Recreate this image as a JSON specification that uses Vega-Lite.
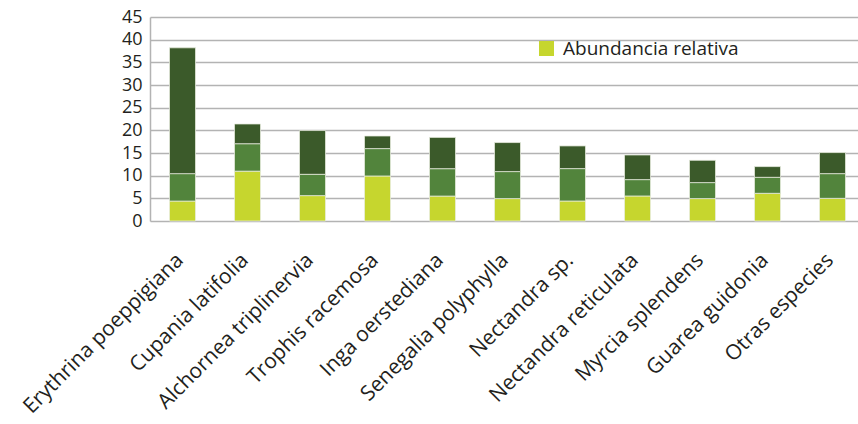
{
  "$schema": "https://vega.github.io/schema/vega-lite/v6.json",
  "autosize": "none",
  "width": 708,
  "height": 204,
  "padding": {"left": 150, "top": 17, "right": 0, "bottom": 203},
  "background": "white",
  "config": {
    "view": {"stroke": null},
    "font": "Open Sans",
    "axis": {"labelFont": "Open Sans", "labelColor": "#231f20"},
    "legend": {"labelFont": "Open Sans", "labelColor": "#231f20"}
  },
  "data": {
    "values": [
      {"especie": "Erythrina poeppigiana", "serie": "Abundancia relativa", "n": 1, "valor": 4.4},
      {"especie": "Erythrina poeppigiana", "serie": "Frecuencia relativa", "n": 2, "valor": 6.05},
      {"especie": "Erythrina poeppigiana", "serie": "Dominancia relativa", "n": 3, "valor": 27.75},
      {"especie": "Cupania latifolia", "serie": "Abundancia relativa", "n": 1, "valor": 11.0},
      {"especie": "Cupania latifolia", "serie": "Frecuencia relativa", "n": 2, "valor": 6.05},
      {"especie": "Cupania latifolia", "serie": "Dominancia relativa", "n": 3, "valor": 4.35},
      {"especie": "Alchornea triplinervia", "serie": "Abundancia relativa", "n": 1, "valor": 5.6},
      {"especie": "Alchornea triplinervia", "serie": "Frecuencia relativa", "n": 2, "valor": 4.7},
      {"especie": "Alchornea triplinervia", "serie": "Dominancia relativa", "n": 3, "valor": 9.65},
      {"especie": "Trophis racemosa", "serie": "Abundancia relativa", "n": 1, "valor": 9.93},
      {"especie": "Trophis racemosa", "serie": "Frecuencia relativa", "n": 2, "valor": 6.04},
      {"especie": "Trophis racemosa", "serie": "Dominancia relativa", "n": 3, "valor": 2.78},
      {"especie": "Inga oerstediana", "serie": "Abundancia relativa", "n": 1, "valor": 5.5},
      {"especie": "Inga oerstediana", "serie": "Frecuencia relativa", "n": 2, "valor": 6.04},
      {"especie": "Inga oerstediana", "serie": "Dominancia relativa", "n": 3, "valor": 6.9},
      {"especie": "Senegalia polyphylla", "serie": "Abundancia relativa", "n": 1, "valor": 4.94},
      {"especie": "Senegalia polyphylla", "serie": "Frecuencia relativa", "n": 2, "valor": 5.96},
      {"especie": "Senegalia polyphylla", "serie": "Dominancia relativa", "n": 3, "valor": 6.4},
      {"especie": "Nectandra sp.", "serie": "Abundancia relativa", "n": 1, "valor": 4.41},
      {"especie": "Nectandra sp.", "serie": "Frecuencia relativa", "n": 2, "valor": 7.15},
      {"especie": "Nectandra sp.", "serie": "Dominancia relativa", "n": 3, "valor": 5.0},
      {"especie": "Nectandra reticulata", "serie": "Abundancia relativa", "n": 1, "valor": 5.52},
      {"especie": "Nectandra reticulata", "serie": "Frecuencia relativa", "n": 2, "valor": 3.61},
      {"especie": "Nectandra reticulata", "serie": "Dominancia relativa", "n": 3, "valor": 5.43},
      {"especie": "Myrcia splendens", "serie": "Abundancia relativa", "n": 1, "valor": 4.94},
      {"especie": "Myrcia splendens", "serie": "Frecuencia relativa", "n": 2, "valor": 3.53},
      {"especie": "Myrcia splendens", "serie": "Dominancia relativa", "n": 3, "valor": 4.92},
      {"especie": "Guarea guidonia", "serie": "Abundancia relativa", "n": 1, "valor": 6.11},
      {"especie": "Guarea guidonia", "serie": "Frecuencia relativa", "n": 2, "valor": 3.53},
      {"especie": "Guarea guidonia", "serie": "Dominancia relativa", "n": 3, "valor": 2.36},
      {"especie": "Otras especies", "serie": "Abundancia relativa", "n": 1, "valor": 5.0},
      {"especie": "Otras especies", "serie": "Frecuencia relativa", "n": 2, "valor": 5.45},
      {"especie": "Otras especies", "serie": "Dominancia relativa", "n": 3, "valor": 4.64}
    ]
  },
  "mark": {"type": "bar", "stroke": "#e8ecdf", "strokeWidth": 0.75},
  "encoding": {
    "x": {
      "field": "especie",
      "type": "nominal",
      "sort": null,
      "scale": {"range": [0, 715], "paddingInner": 0.6, "paddingOuter": 0.3},
      "axis": {
        "title": null,
        "domain": false,
        "ticks": false,
        "labelAngle": -45,
        "labelFontSize": 21,
        "labelPadding": 28,
        "labelOffset": -10,
        "labelOverlap": false,
        "labelBound": false,
        "labelLimit": 400
      }
    },
    "y": {
      "field": "valor",
      "type": "quantitative",
      "stack": "zero",
      "scale": {"domain": [0, 45], "nice": false},
      "axis": {
        "title": null,
        "values": [0, 5, 10, 15, 20, 25, 30, 35, 40, 45],
        "grid": true,
        "gridColor": "#b3b3b3",
        "gridWidth": 1.5,
        "gridOpacity": 1,
        "domain": true,
        "domainColor": "#b3b3b3",
        "domainWidth": 1.5,
        "ticks": false,
        "labelPadding": 8,
        "labelFontSize": 18
      }
    },
    "color": {
      "field": "serie",
      "type": "nominal",
      "scale": {
        "domain": ["Abundancia relativa", "Frecuencia relativa", "Dominancia relativa"],
        "range": ["#c6d62e", "#52843c", "#3b5a2a"]
      },
      "legend": {
        "values": ["Abundancia relativa"],
        "title": null,
        "orient": "none",
        "legendX": 387,
        "legendY": 22,
        "symbolType": "square",
        "symbolSize": 225,
        "symbolStrokeWidth": 0,
        "labelFontSize": 19,
        "labelOffset": 7,
        "labelLimit": 400,
        "padding": 0
      }
    },
    "order": {"field": "n", "type": "quantitative"}
  }
}
